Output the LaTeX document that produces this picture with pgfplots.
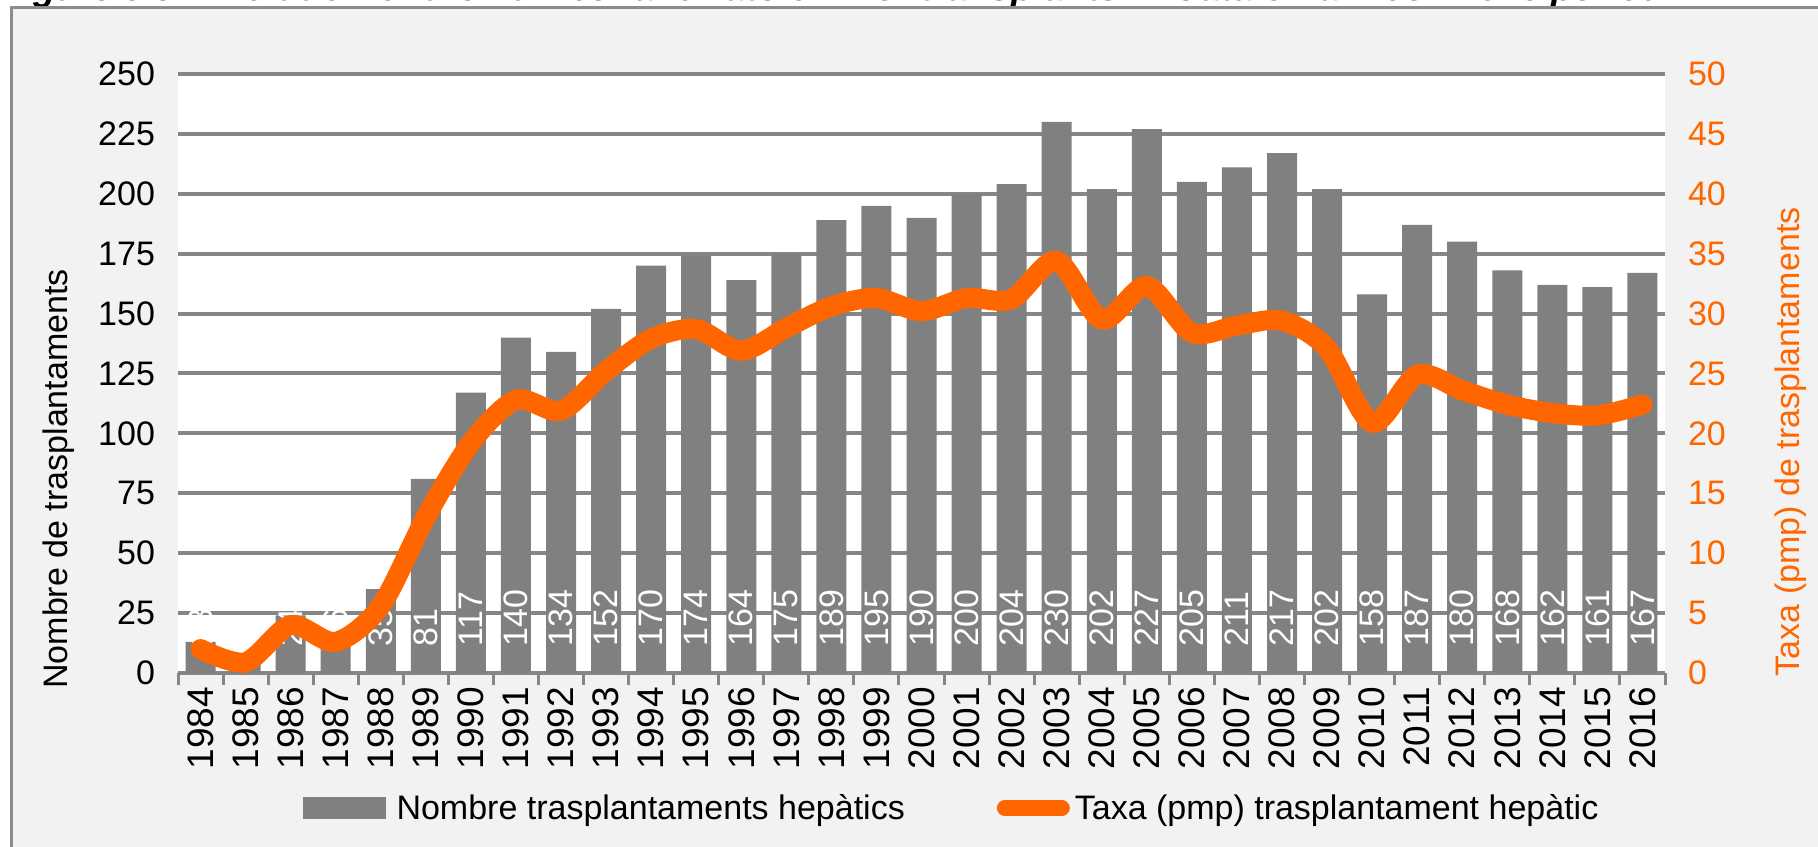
\documentclass[border=0pt]{standalone}
\usepackage{fontspec}
\setmainfont{Liberation Sans}
\usepackage{pgfplots}
\usepackage{pgfplotstable}
\pgfplotsset{compat=1.18}
\pgfplotsset{/pgf/number format/assume math mode=true}
\definecolor{barGrey}{HTML}{808080}
\definecolor{gridGrey}{HTML}{868686}
\definecolor{orangeL}{HTML}{FF6600}
\definecolor{bgGrey}{HTML}{F2F2F2}
\definecolor{frameGrey}{HTML}{8C8C8C}
\newcommand{\fs}{\fontsize{17pt}{20pt}\selectfont}
\newcommand{\fy}{\fontsize{18.5pt}{21pt}\selectfont}

\pgfplotstableread{
x year n rate
0 1984 13 2.0
1 1985 5 0.9
2 1986 24 4.0
3 1987 16 2.6
4 1988 35 5.6
5 1989 81 13.0
6 1990 117 19.2
7 1991 140 22.8
8 1992 134 21.9
9 1993 152 25.2
10 1994 170 27.9
11 1995 174 28.7
12 1996 164 26.9
13 1997 175 28.8
14 1998 189 30.6
15 1999 195 31.3
16 2000 190 30.2
17 2001 200 31.3
18 2002 204 31.2
19 2003 230 34.4
20 2004 202 29.5
21 2005 227 32.3
22 2006 205 28.4
23 2007 211 29.0
24 2008 217 29.4
25 2009 202 27.1
26 2010 158 20.9
27 2011 187 24.9
28 2012 180 23.6
29 2013 168 22.4
30 2014 162 21.7
31 2015 161 21.5
32 2016 167 22.4
}\data

\begin{document}
\begin{tikzpicture}
\useasboundingbox (0,0) rectangle (909pt,423pt);
\fill[white] (0,0) rectangle (909pt,423pt);
\node[anchor=base west, inner sep=0pt, font=\fontsize{18.5pt}{21pt}\selectfont\bfseries\itshape] at (0pt,422.6pt)
  {Figure 3.5. Evolution of the number and rate of liver transplants in Catalonia. 1984-2016 period.};
\filldraw[fill=bgGrey, draw=frameGrey, line width=1.5pt] (5.5pt,-5pt) rectangle (915pt,419pt);

\begin{axis}[
  at={(89pt,86.5pt)}, anchor=south west,
  scale only axis, width=743.5pt, height=299.5pt,
  xmin=-0.5, xmax=32.5, ymin=0, ymax=250,
  axis background/.style={fill=white},
  axis line style={draw=none},
  ytick={0,25,...,250},
  xtick={0,...,32},
  xticklabels={1984,1985,1986,1987,1988,1989,1990,1991,1992,1993,1994,1995,1996,1997,1998,1999,2000,2001,2002,2003,2004,2005,2006,2007,2008,2009,2010,2011,2012,2013,2014,2015,2016},
  minor xtick={-0.5,0.5,...,32.5},
  major tick length=0pt,
  minor tick length=6pt,
  tick align=outside,
  xtick pos=bottom, ytick pos=left,
  minor tick style={gridGrey, line width=1.5pt},
  ymajorgrids,
  grid style={gridGrey, line width=2pt},
  x tick label style={rotate=90, anchor=east, font=\fy, black},
  y tick label style={font=\fs, black},
  xticklabel shift=3.5pt,
  yticklabel shift=8pt,
  ylabel={Nombre de trasplantaments},
  ylabel style={at={(axis description cs:-0.080,0.324)}, anchor=center, font=\fs},
]
\addplot[ybar, bar width=15pt, fill=barGrey, draw=none] table[x=x, y=n]{\data};
\addplot[draw=none, mark=none, nodes near coords, point meta=explicit,
  nodes near coords style={rotate=90, anchor=west, inner sep=0pt, white, font=\fs}]
  table[x=x, y expr=11, meta=n]{\data};
\end{axis}

\begin{axis}[
  at={(89pt,86.5pt)}, anchor=south west,
  scale only axis, width=743.5pt, height=299.5pt,
  xmin=-0.5, xmax=32.5, ymin=0, ymax=50,
  clip=false,
  axis y line*=right,
  hide x axis,
  axis line style={draw=none},
  ytick={0,5,...,50},
  major tick length=0pt,
  ytick style={draw=none},
  y tick label style={font=\fs, orangeL, anchor=west},
  yticklabel shift=8pt,
  ylabel={Taxa (pmp) de trasplantaments},
  ylabel style={at={(axis description cs:1.0847,0.386)}, anchor=center, font=\fs, orangeL},
  legend columns=2,
  legend cell align=left,
  legend style={at={(0.521,-0.2254)}, anchor=center, draw=none, fill=none, font=\fs,
    /tikz/every even column/.append style={column sep=44pt}},
]
\addlegendimage{legend image code/.code={\path[draw=none,fill=none] (0pt,-5.25pt) rectangle (44.5pt,5.25pt); \fill[barGrey] (0pt,-5.25pt) rectangle (41pt,5.25pt);}}
\addlegendentry{Nombre trasplantaments hepàtics}
\addlegendimage{legend image code/.code={\path[draw=none,fill=none] (0pt,-4pt) rectangle (37pt,4pt); \draw[orangeL, line width=8pt, line cap=round] (4pt,0pt) -- (32.5pt,0pt);}}
\addlegendentry{Taxa (pmp) trasplantament hepàtic}
\addplot[orangeL, line width=10pt, smooth, line cap=round, forget plot]
  table[x=x, y=rate]{\data};
\end{axis}
\end{tikzpicture}
\end{document}
